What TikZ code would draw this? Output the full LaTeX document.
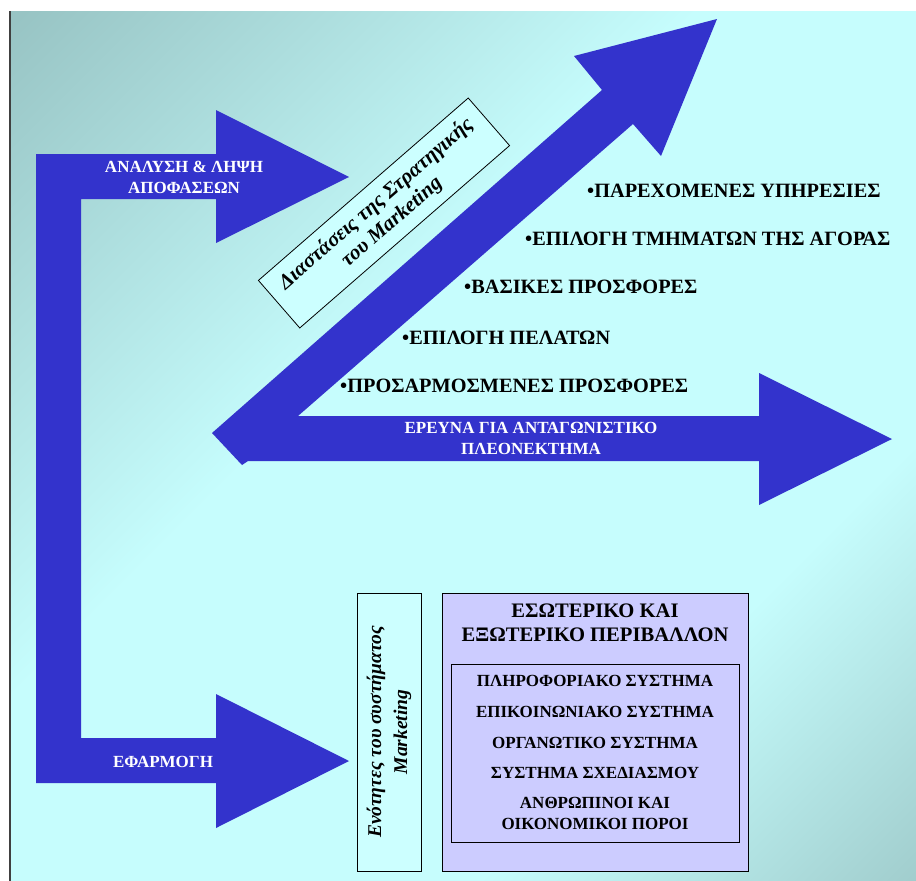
\documentclass[tikz,border=0pt]{standalone}
\usepackage{fontspec}
\setmainfont{Liberation Serif}
\usepackage{xcolor}
\definecolor{arrowblue}{RGB}{51,51,204}
\definecolor{boxcyan}{RGB}{204,255,255}
\definecolor{boxlilac}{RGB}{204,204,255}
\definecolor{bgdark}{RGB}{152,196,196}
\definecolor{bglight}{RGB}{198,253,253}
\definecolor{bgdarkb}{RGB}{160,204,204}
\pgfdeclarehorizontalshading{slidebg}{100bp}{color(0bp)=(bgdark); color(15bp)=(bgdark); color(42bp)=(bglight); color(68bp)=(bglight); color(86bp)=(bgdarkb); color(100bp)=(bgdarkb)}

\begin{document}
\begin{tikzpicture}[x=1pt,y=-1pt,
    whitelbl/.style={text=white,font=\bfseries\fontsize{17}{21}\selectfont,align=center,inner sep=0},
    pointlbl/.style={anchor=west,font=\bfseries\fontsize{20.3}{22}\selectfont,inner sep=0},
    syslbl/.style={font=\bfseries\fontsize{17}{21}\selectfont,align=center,inner sep=0},
    framebox/.style={draw,line width=0.8pt,inner sep=0}]
\useasboundingbox (0,0) rectangle (916,881);
\fill[white] (0,0) rectangle (916,881);
\shade[shading=slidebg,shading angle=-45] (10,11) rectangle (916,881);
\draw[line width=1.5pt,black!75] (10,11) -- (10,881);

% bracket with two arrows
\fill[arrowblue] (36,154) -- (216,154) -- (216,110) -- (349,177) -- (216,243) -- (216,199)
    -- (81,199) -- (81,738) -- (216,738) -- (216,694) -- (349,761) -- (216,828) -- (216,783)
    -- (36,783) -- cycle;

% corner arrow, up and to the right
\fill[arrowblue] (212,433) -- (602,90) -- (574,56) -- (717,19) -- (661,156) -- (633,124)
    -- (298,416) -- (759,416) -- (759,373) -- (892,439) -- (759,505) -- (759,461)
    -- (248,461) -- (242,465) -- cycle;

\node[whitelbl] (analyse) at (184,177) {ΑΝΑΛΥΣΗ \& ΛΗΨΗ\\ΑΠΟΦΑΣΕΩΝ};
\node[whitelbl] (apply) at (163,762) {ΕΦΑΡΜΟΓΗ};
\node[whitelbl] (research) at (531,438) {ΕΡΕΥΝΑ ΓΙΑ ΑΝΤΑΓΩΝΙΣΤΙΚΟ\\ΠΛΕΟΝΕΚΤΗΜΑ};

\node[framebox,fill=boxcyan,minimum width=278,minimum height=63,rotate=41,
    font=\bfseries\itshape\fontsize{21}{24}\selectfont,align=center] (dimbox) at (384,213)
    {Διαστάσεις της Στρατηγικής\\του Marketing};

\node[pointlbl] (pt1) at (587,191) {•ΠΑΡΕΧΟΜΕΝΕΣ ΥΠΗΡΕΣΙΕΣ};
\node[pointlbl] (pt2) at (525,239) {•ΕΠΙΛΟΓΗ ΤΜΗΜΑΤΩΝ ΤΗΣ ΑΓΟΡΑΣ};
\node[pointlbl] (pt3) at (464,287) {•ΒΑΣΙΚΕΣ ΠΡΟΣΦΟΡΕΣ};
\node[pointlbl] (pt4) at (402,338) {•ΕΠΙΛΟΓΗ ΠΕΛΑΤΩΝ};
\node[pointlbl] (pt5) at (340,386) {•ΠΡΟΣΑΡΜΟΣΜΕΝΕΣ ΠΡΟΣΦΟΡΕΣ};

\node[framebox,fill=boxcyan,minimum width=278,minimum height=64,rotate=90,
    font=\bfseries\itshape\fontsize{19.5}{26}\selectfont,align=center] (unitbox) at (389,732)
    {Ενότητες του συστήματος\\Marketing};

\node[framebox,fill=boxlilac,minimum width=306,minimum height=278] (envbox) at (595,732) {};
\node[framebox,minimum width=288,minimum height=178] (sysbox) at (595,753) {};
\node[syslbl,font=\bfseries\fontsize{20.6}{24}\selectfont] (envtitle) at (595,623)
    {ΕΣΩΤΕΡΙΚΟ ΚΑΙ\\ΕΞΩΤΕΡΙΚΟ ΠΕΡΙΒΑΛΛΟΝ};
\node[syslbl] (sys1) at (595,681) {ΠΛΗΡΟΦΟΡΙΑΚΟ ΣΥΣΤΗΜΑ};
\node[syslbl] (sys2) at (595,712) {ΕΠΙΚΟΙΝΩΝΙΑΚΟ ΣΥΣΤΗΜΑ};
\node[syslbl] (sys3) at (595,743) {ΟΡΓΑΝΩΤΙΚΟ ΣΥΣΤΗΜΑ};
\node[syslbl] (sys4) at (595,773) {ΣΥΣΤΗΜΑ ΣΧΕΔΙΑΣΜΟΥ};
\node[syslbl] (sys5) at (595,813) {ΑΝΘΡΩΠΙΝΟΙ ΚΑΙ\\ΟΙΚΟΝΟΜΙΚΟΙ ΠΟΡΟΙ};
\end{tikzpicture}
\end{document}
